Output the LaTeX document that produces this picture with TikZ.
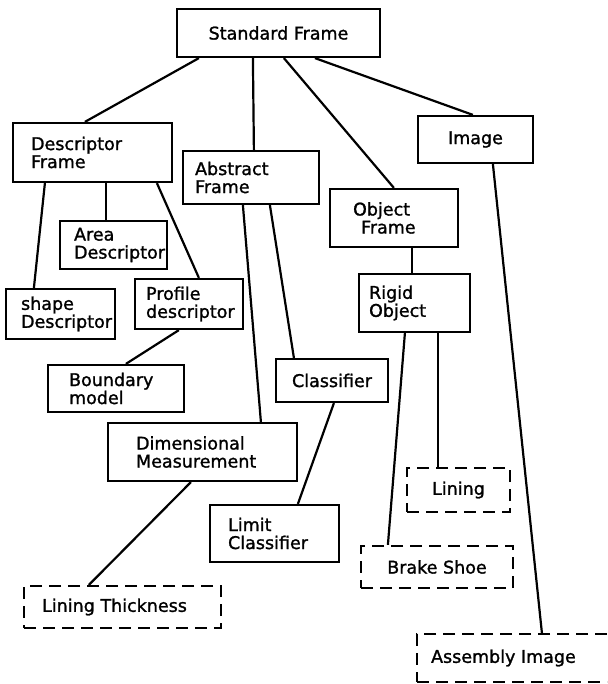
\documentclass[tikz,border=0pt]{standalone}
\usepackage{fontspec}
\setmainfont{DejaVu Sans}[BoldFont={DejaVu Sans},BoldFeatures={FakeBold=1.3}]
\begin{document}
\begin{tikzpicture}[x=1pt,y=-1pt,
  box/.style={draw,line width=2.2pt,rectangle,inner sep=0pt},
  dbox/.style={box,dash pattern=on 12pt off 7pt},
  txt/.style={inner sep=0pt,align=left,font=\fontsize{17.5}{18}\selectfont\bfseries},
  conn/.style={line width=2.2pt}]
\clip (0,0) rectangle (607,684);
\fill[white] (0,0) rectangle (607,684);
% boxes
\node[box,minimum width=203pt,minimum height=48pt] (SF) at (278.5,33) {};
\node[box,minimum width=159pt,minimum height=59pt] (DF) at (92.5,152.5) {};
\node[box,minimum width=136pt,minimum height=53pt] (AF) at (251,177.5) {};
\node[box,minimum width=128pt,minimum height=58pt] (OF) at (394,218) {};
\node[box,minimum width=115pt,minimum height=47pt] (IM) at (475.5,139.5) {};
\node[box,minimum width=107pt,minimum height=48pt] (AD) at (113.5,245) {};
\node[box,minimum width=109pt,minimum height=50pt] (SD) at (60.5,314) {};
\node[box,minimum width=108pt,minimum height=50pt] (PD) at (189,304) {};
\node[box,minimum width=111pt,minimum height=58pt] (RO) at (414.5,303) {};
\node[box,minimum width=136pt,minimum height=47pt] (BM) at (116,388.5) {};
\node[box,minimum width=112pt,minimum height=43pt] (CL) at (332,380.5) {};
\node[box,minimum width=189pt,minimum height=58pt] (DM) at (202.5,452) {};
\node[dbox,minimum width=103pt,minimum height=44pt] (LI) at (458.5,490) {};
\node[box,minimum width=129pt,minimum height=57pt] (LC) at (274.5,533.5) {};
\node[dbox,minimum width=152pt,minimum height=42pt] (BS) at (437,567) {};
\node[dbox,minimum width=197pt,minimum height=42pt] (LT) at (122.5,607) {};
\node[dbox,minimum width=223pt,minimum height=48pt] (AI) at (528.5,658) {};
% texts
\node[txt] (tSF) at (SF.center) {Standard Frame};
\node[txt,anchor=west] (tDF) at ([xshift=19pt]DF.west) {Descriptor\\Frame};
\node[txt,anchor=west] (tAF) at ([xshift=13pt]AF.west) {Abstract\\Frame};
\node[txt,anchor=west] (tOF) at ([xshift=24pt]OF.west) {Object\\\hspace*{8pt}Frame};
\node[txt] (tIM) at (IM.center) {Image};
\node[txt,anchor=west] (tAD) at ([xshift=15pt]AD.west) {Area\\Descriptor};
\node[txt,anchor=west] (tSD) at ([xshift=16pt]SD.west) {shape\\Descriptor};
\node[txt,anchor=west] (tPD) at ([xshift=12pt]PD.west) {Profile\\descriptor};
\node[txt,anchor=west] (tRO) at ([xshift=11pt]RO.west) {Rigid\\Object};
\node[txt,anchor=west] (tBM) at ([xshift=22pt]BM.west) {Boundary\\model};
\node[txt] (tCL) at (CL.center) {Classifier};
\node[txt,anchor=west] (tDM) at ([xshift=29pt]DM.west) {Dimensional\\Measurement};
\node[txt] (tLI) at (LI.center) {Lining};
\node[txt,anchor=west] (tLC) at ([xshift=19pt]LC.west) {Limit\\Classifier};
\node[txt] (tBS) at (BS.center) {Brake Shoe};
\node[txt,anchor=west] (tLT) at ([xshift=19pt]LT.west) {Lining Thickness};
\node[txt,anchor=west] (tAI) at ([xshift=15pt]AI.west) {Assembly Image};
% connectors
\draw[conn] ([xshift=23pt]SF.south west) -- ([xshift=73pt]DF.north west);
\draw[conn] ([xshift=77pt]SF.south west) -- ([xshift=72pt]AF.north west);
\draw[conn] ([xshift=108pt]SF.south west) -- ([xshift=65pt]OF.north west);
\draw[conn] ([xshift=139pt]SF.south west) -- ([xshift=56pt]IM.north west);
\draw[conn] ([xshift=33pt]DF.south west) -- ([xshift=29pt]SD.north west);
\draw[conn] ([xshift=94pt]DF.south west) -- ([xshift=47pt]AD.north west);
\draw[conn] ([xshift=145pt]DF.south west) -- ([xshift=65pt]PD.north west);
\draw[conn] ([xshift=61pt]AF.south west) -- ([xshift=154pt]DM.north west);
\draw[conn] ([xshift=88pt]AF.south west) -- ([xshift=19pt]CL.north west);
\draw[conn] ([xshift=83pt]OF.south west) -- ([xshift=54pt]RO.north west);
\draw[conn] ([xshift=76pt]IM.south west) -- ([xshift=126pt]AI.north west);
\draw[conn] ([xshift=45pt]PD.south west) -- ([xshift=79pt]BM.north west);
\draw[conn] ([xshift=47pt]RO.south west) -- ([xshift=28pt]BS.north west);
\draw[conn] ([xshift=80pt]RO.south west) -- ([xshift=32pt]LI.north west);
\draw[conn] ([xshift=59pt]CL.south west) -- ([xshift=89pt]LC.north west);
\draw[conn] ([xshift=84pt]DM.south west) -- ([xshift=66pt]LT.north west);
\end{tikzpicture}
\end{document}
